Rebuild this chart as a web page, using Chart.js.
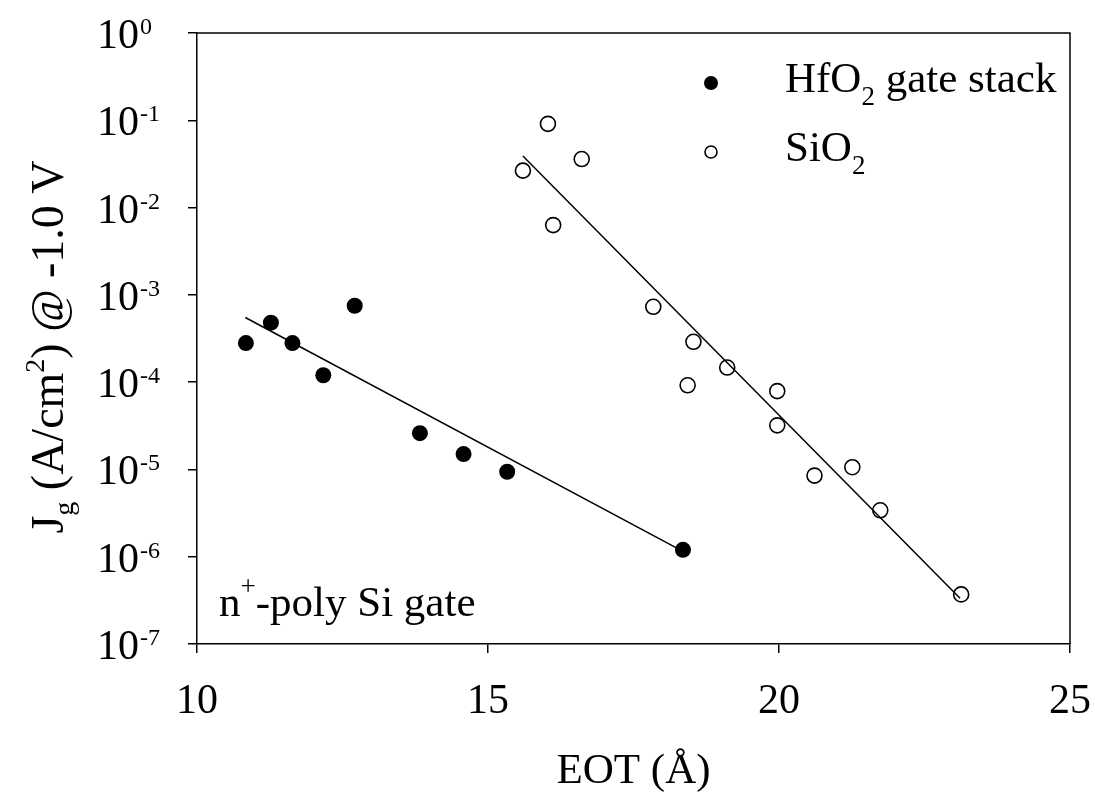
<!DOCTYPE html>
<html>
<head>
<meta charset="utf-8">
<script src="https://cdn.jsdelivr.net/npm/chart.js@4.4.1/dist/chart.umd.min.js"></script>
<style>
  html, body { margin: 0; padding: 0; background: #fff; }
</style>
</head>
<body>
<canvas id="eotChart" width="1095" height="798"></canvas>
<script>
// HfO2 gate stack (filled dots)
const hfEot = [10.84, 11.27, 11.64, 12.17, 12.71, 13.83, 14.58, 15.33, 18.35];
const hfJg  = [2.8e-4, 4.8e-4, 2.8e-4, 1.2e-4, 7.5e-4, 2.6e-5, 1.5e-5, 9.4e-6, 1.2e-6];

// SiO2 (open circles)
const sioEot = [15.60, 16.03, 16.12, 16.61, 17.84, 18.43, 18.53, 19.11, 19.97, 19.97, 20.61, 21.26, 21.74, 23.13];
const sioJg  = [2.65e-2, 9.1e-2, 6.3e-3, 3.6e-2, 7.3e-4, 9.2e-5, 2.9e-4, 1.47e-4, 7.9e-5, 3.2e-5, 8.5e-6, 1.06e-5, 3.4e-6, 3.7e-7];

// fit lines (end points)
const hfFitEot  = [10.83, 18.35];
const hfFitJg   = [5.5e-4, 1.15e-6];
const sioFitEot = [15.60, 23.11];
const sioFitJg  = [3.9e-2, 3.35e-7];

const xTicks = [10, 15, 20, 25];
const yTickExps = [0, -1, -2, -3, -4, -5, -6, -7];

const FONT = '"Liberation Serif", "Times New Roman", serif';

function pts(xs, ys) {
    return xs.map((x, i) => ({ x: x, y: ys[i] }));
}

// draws a run of text pieces, some of them raised or lowered
function drawRich(ctx, runs, x, y, align) {
    let total = 0;
    runs.forEach(r => {
        ctx.font = r.size + 'px ' + FONT;
        r.w = ctx.measureText(r.t).width;
        total += r.w;
    });
    let cx = align === 'center' ? x - total / 2 : x;
    runs.forEach(r => {
        ctx.font = r.size + 'px ' + FONT;
        ctx.fillText(r.t, cx, y + (r.dy || 0));
        cx += r.w;
    });
}

const axisText = {
    id: 'axisText',
    afterDraw(chart) {
        const ctx = chart.ctx;
        const xs = chart.scales.x, ys = chart.scales.y;
        const area = chart.chartArea;
        ctx.save();
        ctx.fillStyle = '#000';
        ctx.textBaseline = 'alphabetic';
        ctx.textAlign = 'left';

        // frame top + right
        ctx.strokeStyle = '#000';
        ctx.lineWidth = 1.5;
        ctx.beginPath();
        ctx.moveTo(area.left, area.top);
        ctx.lineTo(area.right, area.top);
        ctx.lineTo(area.right, area.bottom);
        ctx.stroke();

        // y tick labels 10^n
        yTickExps.forEach(e => {
            const py = ys.getPixelForValue(Math.pow(10, e));
            ctx.font = '42px ' + FONT;
            ctx.fillText('10', 97, py + 15);
            const w = ctx.measureText('10').width;
            ctx.font = '24px ' + FONT;
            ctx.fillText(e === 0 ? '0' : '-' + Math.abs(e), 97 + w + 1, py + 1);
        });

        // x tick labels
        ctx.font = '42px ' + FONT;
        ctx.textAlign = 'center';
        xTicks.forEach(v => {
            ctx.fillText(String(v), xs.getPixelForValue(v), 713);
        });
        ctx.font = '43px ' + FONT;
        ctx.fillText('EOT (\u00C5)', (area.left + area.right) / 2, 783);
        ctx.textAlign = 'left';

        // y title
        ctx.save();
        ctx.translate(63, 347);
        ctx.rotate(-Math.PI / 2);
        drawRich(ctx, [
            { t: 'J', size: 46 },
            { t: 'g', size: 28, dy: 10 },
            { t: ' (A/cm', size: 46 },
            { t: '2', size: 28, dy: -19 },
            { t: ') @ -1.0 V', size: 46 }
        ], 0, 0, 'center');
        ctx.restore();

        // legend
        ctx.beginPath();
        ctx.arc(711, 83, 7, 0, Math.PI * 2);
        ctx.fill();
        ctx.beginPath();
        ctx.lineWidth = 1.6;
        ctx.arc(711, 152, 6, 0, Math.PI * 2);
        ctx.stroke();
        drawRich(ctx, [
            { t: 'HfO', size: 43 },
            { t: '2', size: 27, dy: 13 },
            { t: ' gate stack', size: 43 }
        ], 785, 92, 'left');
        drawRich(ctx, [
            { t: 'SiO', size: 43 },
            { t: '2', size: 27, dy: 13 }
        ], 785, 161, 'left');

        // gate label
        drawRich(ctx, [
            { t: 'n', size: 43 },
            { t: '+', size: 27, dy: -21 },
            { t: '-poly Si gate', size: 43 }
        ], 219, 616, 'left');

        ctx.restore();
    }
};

const axisLine = { display: true, color: '#000', width: 1.5 };
const outwardTicks = { display: true, drawOnChartArea: false, drawTicks: true, tickLength: 9, color: '#000', lineWidth: 1.5 };

const ctx = document.getElementById('eotChart').getContext('2d');
const eotChart = new Chart(ctx, {
    type: 'scatter',
    data: {
        datasets: [
            {
                label: 'HfO2 gate stack',
                data: pts(hfEot, hfJg),
                pointRadius: 8,
                pointBackgroundColor: '#000',
                pointBorderColor: '#000',
                pointBorderWidth: 0
            },
            {
                label: 'SiO2',
                data: pts(sioEot, sioJg),
                pointRadius: 7.5,
                pointBackgroundColor: 'rgba(0,0,0,0)',
                pointBorderColor: '#000',
                pointBorderWidth: 1.6
            },
            {
                type: 'line',
                label: 'HfO2 fit',
                data: pts(hfFitEot, hfFitJg),
                borderColor: '#000',
                borderWidth: 1.5,
                pointRadius: 0,
                fill: false
            },
            {
                type: 'line',
                label: 'SiO2 fit',
                data: pts(sioFitEot, sioFitJg),
                borderColor: '#000',
                borderWidth: 1.5,
                pointRadius: 0,
                fill: false
            }
        ]
    },
    options: {
        responsive: false,
        animation: false,
        devicePixelRatio: 1,
        layout: { padding: { top: 33, right: 25, left: 0, bottom: 0 } },
        plugins: {
            legend: { display: false },
            tooltip: { enabled: false }
        },
        scales: {
            x: {
                type: 'linear',
                min: 10,
                max: 25,
                afterBuildTicks: s => { s.ticks = xTicks.map(v => ({ value: v })); },
                afterFit: s => { s.height = 154; },
                ticks: { display: false },
                grid: outwardTicks,
                border: axisLine
            },
            y: {
                type: 'logarithmic',
                min: 1e-7,
                max: 1,
                afterBuildTicks: s => { s.ticks = yTickExps.map(e => ({ value: Math.pow(10, e) })); },
                afterFit: s => { s.width = 197; },
                ticks: { display: false },
                grid: outwardTicks,
                border: axisLine
            }
        }
    },
    plugins: [axisText]
});
</script>
</body>
</html>
